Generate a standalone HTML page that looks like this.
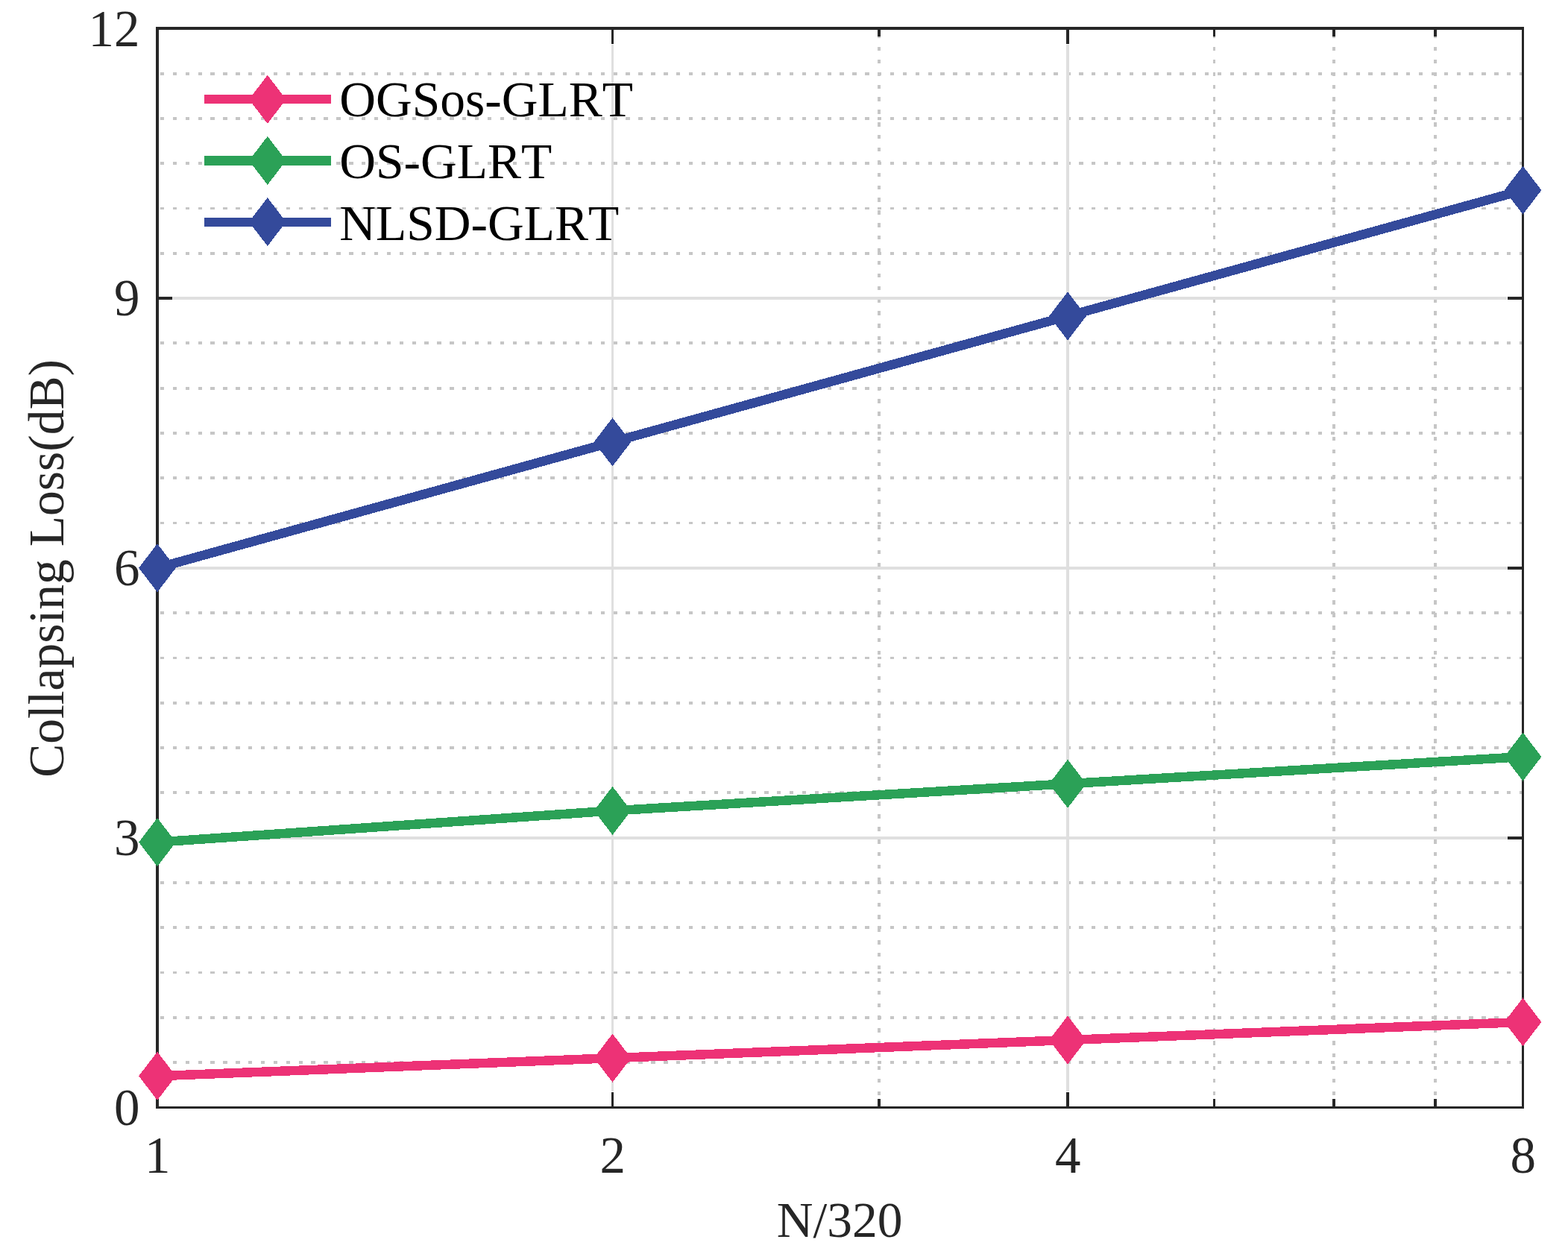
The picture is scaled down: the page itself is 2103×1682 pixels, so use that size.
<!DOCTYPE html>
<html lang="en"><head><meta charset="utf-8"><title>Collapsing Loss vs N/320</title>
<style>html,body{margin:0;padding:0;background:#fff;}body{width:2103px;height:1682px;overflow:hidden;}svg{display:block;}text{font-family:"Liberation Serif",serif;font-size:67.5px;font-kerning:none;font-variant-ligatures:none;}.tk text{font-size:69px;}</style>
</head><body>
<svg width="2103" height="1682" viewBox="0 0 2103 1682" role="img" aria-label="Collapsing loss versus N/320">
<rect x="0" y="0" width="2103" height="1682" fill="#ffffff"/>
<g shape-rendering="crispEdges">
<line x1="214.9" y1="99" x2="2041" y2="99" stroke="#c6c6c6" stroke-width="4" stroke-dasharray="5.4 11.48"/>
<line x1="214.9" y1="159" x2="2041" y2="159" stroke="#c6c6c6" stroke-width="4" stroke-dasharray="5.4 11.48"/>
<line x1="214.9" y1="219" x2="2041" y2="219" stroke="#c6c6c6" stroke-width="4" stroke-dasharray="5.4 11.48"/>
<line x1="214.9" y1="279.5" x2="2041" y2="279.5" stroke="#c6c6c6" stroke-width="3" stroke-dasharray="5.4 11.48"/>
<line x1="214.9" y1="340" x2="2041" y2="340" stroke="#c6c6c6" stroke-width="4" stroke-dasharray="5.4 11.48"/>
<line x1="214.9" y1="460" x2="2041" y2="460" stroke="#c6c6c6" stroke-width="4" stroke-dasharray="5.4 11.48"/>
<line x1="214.9" y1="521" x2="2041" y2="521" stroke="#c6c6c6" stroke-width="4" stroke-dasharray="5.4 11.48"/>
<line x1="214.9" y1="581" x2="2041" y2="581" stroke="#c6c6c6" stroke-width="4" stroke-dasharray="5.4 11.48"/>
<line x1="214.9" y1="641" x2="2041" y2="641" stroke="#c6c6c6" stroke-width="4" stroke-dasharray="5.4 11.48"/>
<line x1="214.9" y1="701.5" x2="2041" y2="701.5" stroke="#c6c6c6" stroke-width="3" stroke-dasharray="5.4 11.48"/>
<line x1="214.9" y1="822" x2="2041" y2="822" stroke="#c6c6c6" stroke-width="4" stroke-dasharray="5.4 11.48"/>
<line x1="214.9" y1="882.5" x2="2041" y2="882.5" stroke="#c6c6c6" stroke-width="3" stroke-dasharray="5.4 11.48"/>
<line x1="214.9" y1="943" x2="2041" y2="943" stroke="#c6c6c6" stroke-width="4" stroke-dasharray="5.4 11.48"/>
<line x1="214.9" y1="1003" x2="2041" y2="1003" stroke="#c6c6c6" stroke-width="4" stroke-dasharray="5.4 11.48"/>
<line x1="214.9" y1="1063" x2="2041" y2="1063" stroke="#c6c6c6" stroke-width="4" stroke-dasharray="5.4 11.48"/>
<line x1="214.9" y1="1184" x2="2041" y2="1184" stroke="#c6c6c6" stroke-width="4" stroke-dasharray="5.4 11.48"/>
<line x1="214.9" y1="1244" x2="2041" y2="1244" stroke="#c6c6c6" stroke-width="4" stroke-dasharray="5.4 11.48"/>
<line x1="214.9" y1="1304.5" x2="2041" y2="1304.5" stroke="#c6c6c6" stroke-width="3" stroke-dasharray="5.4 11.48"/>
<line x1="214.9" y1="1365" x2="2041" y2="1365" stroke="#c6c6c6" stroke-width="4" stroke-dasharray="5.4 11.48"/>
<line x1="214.9" y1="1425" x2="2041" y2="1425" stroke="#c6c6c6" stroke-width="4" stroke-dasharray="5.4 11.48"/>
<line x1="1179" y1="46" x2="1179" y2="1484" stroke="#c6c6c6" stroke-width="4" stroke-dasharray="5.4 11.477"/>
<line x1="1628.5" y1="46" x2="1628.5" y2="1484" stroke="#c6c6c6" stroke-width="3" stroke-dasharray="5.4 11.477"/>
<line x1="1789" y1="46" x2="1789" y2="1484" stroke="#c6c6c6" stroke-width="4" stroke-dasharray="5.4 11.477"/>
<line x1="1925" y1="46" x2="1925" y2="1484" stroke="#c6c6c6" stroke-width="4" stroke-dasharray="5.4 11.477"/>
<rect x="231" y="398" width="1790" height="4" fill="#dfdfdf"/>
<rect x="231" y="760" width="1791" height="4" fill="#dfdfdf"/>
<rect x="231" y="1122" width="1791" height="4" fill="#dfdfdf"/>
<rect x="820" y="60" width="3" height="1404" fill="#dfdfdf"/>
<rect x="1430" y="60" width="4" height="1404" fill="#dfdfdf"/>
<rect x="209" y="398" width="22" height="4" fill="#262626"/>
<rect x="2022" y="398" width="22" height="4" fill="#262626"/>
<rect x="209" y="760" width="22" height="4" fill="#262626"/>
<rect x="2022" y="760" width="22" height="4" fill="#262626"/>
<rect x="209" y="1122" width="22" height="4" fill="#262626"/>
<rect x="2022" y="1122" width="22" height="4" fill="#262626"/>
<rect x="820" y="36" width="3" height="23" fill="#262626"/>
<rect x="820" y="1465" width="3" height="22" fill="#262626"/>
<rect x="1430" y="36" width="4" height="23" fill="#262626"/>
<rect x="1430" y="1465" width="4" height="22" fill="#262626"/>
<rect x="1177" y="36" width="4" height="13" fill="#262626"/>
<rect x="1177" y="1474" width="4" height="13" fill="#262626"/>
<rect x="1627" y="36" width="3" height="13" fill="#262626"/>
<rect x="1627" y="1474" width="3" height="13" fill="#262626"/>
<rect x="1787" y="36" width="4" height="13" fill="#262626"/>
<rect x="1787" y="1474" width="4" height="13" fill="#262626"/>
<rect x="1923" y="36" width="4" height="13" fill="#262626"/>
<rect x="1923" y="1474" width="4" height="13" fill="#262626"/>
<rect x="209" y="36" width="1835" height="4" fill="#262626"/>
<rect x="209" y="1484" width="1835" height="3" fill="#262626"/>
<rect x="209" y="36" width="4" height="1451" fill="#262626"/>
<rect x="2041" y="36" width="3" height="1451" fill="#262626"/>
</g>
<polyline points="211.00,1443.28 821.50,1419.16 1432.00,1395.03 2042.50,1370.91" fill="none" stroke="#ed3276" stroke-width="12.5" stroke-linejoin="round" shape-rendering="crispEdges"/>
<polygon points="211.00,1410.78 235.90,1443.28 211.00,1475.78 186.10,1443.28" fill="#ed3276" shape-rendering="crispEdges"/>
<polygon points="821.50,1386.66 846.40,1419.16 821.50,1451.66 796.60,1419.16" fill="#ed3276" shape-rendering="crispEdges"/>
<polygon points="1432.00,1362.53 1456.90,1395.03 1432.00,1427.53 1407.10,1395.03" fill="#ed3276" shape-rendering="crispEdges"/>
<polygon points="2042.50,1338.41 2067.40,1370.91 2042.50,1403.41 2017.60,1370.91" fill="#ed3276" shape-rendering="crispEdges"/>
<polyline points="211.00,1129.66 821.50,1087.44 1432.00,1051.25 2042.50,1015.06" fill="none" stroke="#2ba157" stroke-width="12.5" stroke-linejoin="round" shape-rendering="crispEdges"/>
<polygon points="211.00,1097.16 235.90,1129.66 211.00,1162.16 186.10,1129.66" fill="#2ba157" shape-rendering="crispEdges"/>
<polygon points="821.50,1054.94 846.40,1087.44 821.50,1119.94 796.60,1087.44" fill="#2ba157" shape-rendering="crispEdges"/>
<polygon points="1432.00,1018.75 1456.90,1051.25 1432.00,1083.75 1407.10,1051.25" fill="#2ba157" shape-rendering="crispEdges"/>
<polygon points="2042.50,982.56 2067.40,1015.06 2042.50,1047.56 2017.60,1015.06" fill="#2ba157" shape-rendering="crispEdges"/>
<polyline points="211.00,761.75 821.50,592.88 1432.00,424.00 2042.50,255.13" fill="none" stroke="#344a9b" stroke-width="12.5" stroke-linejoin="round" shape-rendering="crispEdges"/>
<polygon points="211.00,729.25 235.90,761.75 211.00,794.25 186.10,761.75" fill="#344a9b" shape-rendering="crispEdges"/>
<polygon points="821.50,560.38 846.40,592.88 821.50,625.38 796.60,592.88" fill="#344a9b" shape-rendering="crispEdges"/>
<polygon points="1432.00,391.50 1456.90,424.00 1432.00,456.50 1407.10,424.00" fill="#344a9b" shape-rendering="crispEdges"/>
<polygon points="2042.50,222.63 2067.40,255.13 2042.50,287.63 2017.60,255.13" fill="#344a9b" shape-rendering="crispEdges"/>
<rect x="274" y="127" width="170" height="12" fill="#ed3276" shape-rendering="crispEdges"/>
<polygon points="358.80,100.80 383.70,133.30 358.80,165.80 333.90,133.30" fill="#ed3276" shape-rendering="crispEdges"/>
<text x="455.2" y="156.3" fill="#000000">OGSos-GLRT</text>
<rect x="274" y="209" width="170" height="13" fill="#2ba157" shape-rendering="crispEdges"/>
<polygon points="358.80,182.90 383.70,215.40 358.80,247.90 333.90,215.40" fill="#2ba157" shape-rendering="crispEdges"/>
<text x="455.2" y="239" fill="#000000">OS-GLRT</text>
<rect x="274" y="292" width="170" height="12" fill="#344a9b" shape-rendering="crispEdges"/>
<polygon points="358.80,265.10 383.70,297.60 358.80,330.10 333.90,297.60" fill="#344a9b" shape-rendering="crispEdges"/>
<text x="455.2" y="321.6" fill="#000000">NLSD-GLRT</text>
<g fill="#262626">
<g class="tk">
<text x="187.6" y="1509.10" text-anchor="end">0</text>
<text x="187.6" y="1147.22" text-anchor="end">3</text>
<text x="187.6" y="785.35" text-anchor="end">6</text>
<text x="187.6" y="423.48" text-anchor="end">9</text>
<text x="187.6" y="61.60" text-anchor="end">12</text>
<text x="211.20" y="1573.1" text-anchor="middle">1</text>
<text x="821.70" y="1573.1" text-anchor="middle">2</text>
<text x="1432.20" y="1573.1" text-anchor="middle">4</text>
<text x="2042.70" y="1573.1" text-anchor="middle">8</text>
</g>
<text x="1126.2" y="1658.7" text-anchor="middle">N/320</text>
<text transform="translate(85,762.4) rotate(-90)" text-anchor="middle">Collapsing Loss(dB)</text>
</g>
</svg>
</body></html>
